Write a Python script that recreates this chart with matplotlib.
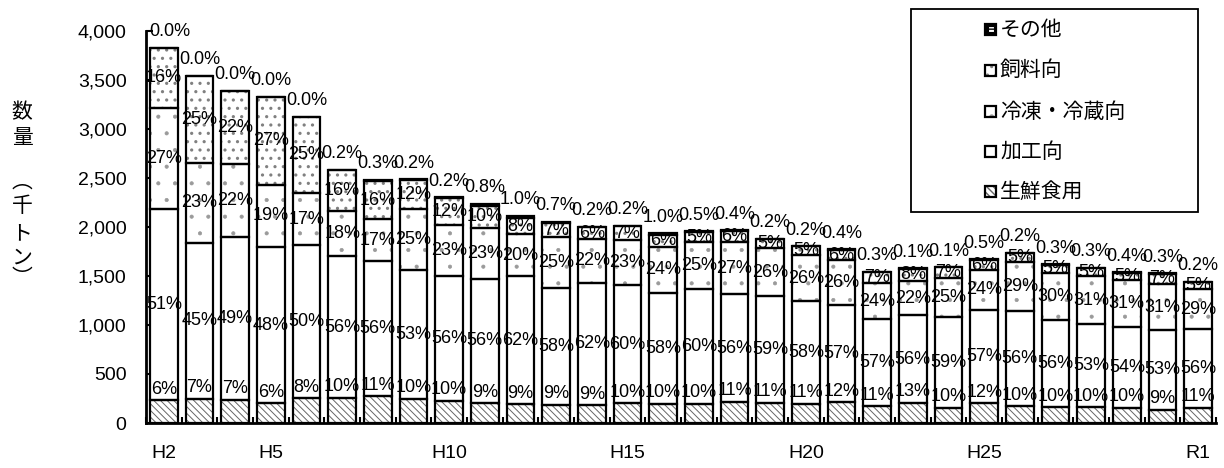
import numpy as np
import matplotlib
matplotlib.use('Agg')
import matplotlib.pyplot as plt
from matplotlib.patches import Rectangle

# ---------------- data ----------------
years = ['H2', 'H3', 'H4', 'H5', 'H6', 'H7', 'H8', 'H9', 'H10', 'H11',
         'H12', 'H13', 'H14', 'H15', 'H16', 'H17', 'H18', 'H19', 'H20', 'H21',
         'H22', 'H23', 'H24', 'H25', 'H26', 'H27', 'H28', 'H29', 'H30', 'R1']
shown_labels = ['H2', 'H5', 'H10', 'H15', 'H20', 'H25', 'R1']

totals = [3830, 3541, 3391, 3330, 3126, 2582, 2480, 2487, 2303, 2235,
          2115, 2054, 2003, 2013, 1936, 1956, 1969, 1878, 1806, 1772,
          1544, 1578, 1589, 1670, 1738, 1619, 1585, 1538, 1528, 1442]

pct_fresh = [6, 7, 7, 6, 8, 10, 11, 10, 10, 9,
             9, 9, 9, 10, 10, 10, 11, 11, 11, 12,
             11, 13, 10, 12, 10, 10, 10, 10, 9, 11]
pct_proc = [51, 45, 49, 48, 50, 56, 56, 53, 56, 56,
            62, 58, 62, 60, 58, 60, 56, 59, 58, 57,
            57, 56, 59, 57, 56, 56, 53, 54, 53, 56]
pct_frozen = [27, 23, 22, 19, 17, 18, 17, 25, 23, 23,
              20, 25, 22, 23, 24, 25, 27, 26, 26, 26,
              24, 22, 25, 24, 29, 30, 31, 31, 31, 29]
pct_feed = [16, 25, 22, 27, 25, 16, 16, 12, 12, 10,
            8, 7, 6, 7, 6, 5, 6, 5, 5, 6,
            7, 8, 7, 6, 5, 5, 5, 5, 7, 5]
pct_other = [0.0, 0.0, 0.0, 0.0, 0.0, 0.2, 0.3, 0.2, 0.2, 0.8,
             1.0, 0.7, 0.2, 0.2, 1.0, 0.5, 0.4, 0.2, 0.2, 0.4,
             0.3, 0.1, 0.1, 0.5, 0.2, 0.3, 0.3, 0.4, 0.3, 0.2]

legend_names = ['その他', '飼料向', '冷凍・冷蔵向', '加工向', '生鮮食用']
ylabel_chars = ['数', '量', '︵', '千', 'ト', 'ン', '︶']

# ---------------- figure ----------------
W, H = 1224, 468
fig = plt.figure(figsize=(W / 100, H / 100), dpi=100)
ax = fig.add_axes([146 / W, 1 - 423 / H, (1216 - 146) / W, (423 - 31) / H])

x = np.arange(len(years))
tot = np.array(totals, float)
P = np.array([pct_fresh, pct_proc, pct_frozen, pct_feed, pct_other], float)
vals = P / P.sum(axis=0) * tot
bottoms = np.vstack([np.zeros(len(x)), np.cumsum(vals, axis=0)[:-1]])
tops = bottoms[-1] + vals[-1]

styles = [
    dict(face='white', hatch='\\\\\\\\\\', hcolor='#666666', hlw=0.7),
    dict(face='white', hatch=None, hcolor='black', hlw=0.7),
    dict(face='white', hatch='.', hcolor='#9a9a9a', hlw=0.5),
    dict(face='white', hatch='..', hcolor='#808080', hlw=1.1),
    dict(face='black', hatch=None, hcolor='black', hlw=0.7),
]


def hatched(patches, lw):
    for p in patches:
        if hasattr(p, 'set_hatch_linewidth'):
            p.set_hatch_linewidth(lw)


bw = 0.78
for v, b, s in zip(vals, bottoms, styles):
    with plt.rc_context({'hatch.linewidth': s['hlw']}):
        bars = ax.bar(x, v, bw, bottom=b, color=s['face'], edgecolor=s['hcolor'],
                      linewidth=0, hatch=s['hatch'], zorder=2)
        hatched(bars, s['hlw'])
    ax.bar(x, v, bw, bottom=b, fill=False, edgecolor='black',
           linewidth=1.6, zorder=3)

lab = dict(family=['Liberation Sans Narrow', 'Liberation Sans', 'DejaVu Sans'],
           fontsize=13, zorder=6)
for i in x:
    ax.annotate(f'{pct_fresh[i]}%', (i, bottoms[1, i]), xytext=(0, 11),
                textcoords='offset pixels', ha='center', va='center', **lab)
    for k, arr in ((1, pct_proc), (2, pct_frozen), (3, pct_feed)):
        ax.text(i, bottoms[k, i] + vals[k, i] / 2, f'{arr[i]}%',
                ha='center', va='center', **lab)
    dx = 6 if i == 0 else 0
    ax.annotate(f'{pct_other[i]:.1f}%', (i, tops[i]), xytext=(dx, 16),
                textcoords='offset pixels', ha='center', va='center', **lab)

ax.set_xlim(-0.5, len(years) - 0.5)
ax.set_ylim(0, 4000)
yt = np.arange(0, 4001, 500)
ax.set_yticks(yt)
ax.set_yticklabels([f'{v:,}' for v in yt], family='Liberation Sans', fontsize=14)
ax.set_xticks(x)
ax.set_xticklabels([y if y in shown_labels else '' for y in years],
                   family='Liberation Sans', fontsize=14)
ax.set_xticks(np.arange(-0.5, len(years), 1), minor=True)
ax.tick_params(axis='y', direction='in', length=5, width=1.5, pad=14)
ax.tick_params(axis='x', which='major', length=0, pad=16)
ax.tick_params(axis='x', which='minor', direction='in', length=4, width=1.5)
for sp in ('top', 'right'):
    ax.spines[sp].set_visible(False)
for sp in ('left', 'bottom'):
    ax.spines[sp].set_linewidth(2)
    ax.spines[sp].set_zorder(4)

# vertical y label
cjk = ['Noto Sans CJK JP', 'DejaVu Sans']
ypos = [112, 138, 182, 206, 233, 258, 278]
for ch, yp in zip(ylabel_chars, ypos):
    fig.text(22 / W, 1 - yp / H, ch, ha='center', va='center',
             family=cjk, fontsize=15)

# legend box
lax = fig.add_axes([910 / W, 1 - 212 / H, 288 / W, 204 / H])
lax.set_xlim(0, 288)
lax.set_ylim(204, 0)
lax.axis('off')
lax.add_patch(Rectangle((0.5, 0.5), 287, 203, fill=False, edgecolor='black',
                        linewidth=1.3, clip_on=False))
leg_styles = [styles[4], styles[3], styles[2], styles[1], styles[0]]
rows = [21.3, 62, 103.7, 143.7, 183.7]
for name, s, ry in zip(legend_names, leg_styles, rows):
    lax.add_patch(Rectangle((75, ry - 5.5), 11, 11, facecolor=s['face'],
                            edgecolor=s['hcolor'], linewidth=0, hatch=s['hatch']))
    if s['face'] == 'black':
        lax.add_patch(Rectangle((77.5, ry - 3), 6, 6, facecolor='white',
                                edgecolor='black', linewidth=0.8, hatch='++'))
    lax.add_patch(Rectangle((75, ry - 5.5), 11, 11, fill=False,
                            edgecolor='black', linewidth=1.6))
    lax.text(90, ry, name, ha='left', va='center', family=cjk, fontsize=15)

fig.savefig('out.png', dpi=100)
